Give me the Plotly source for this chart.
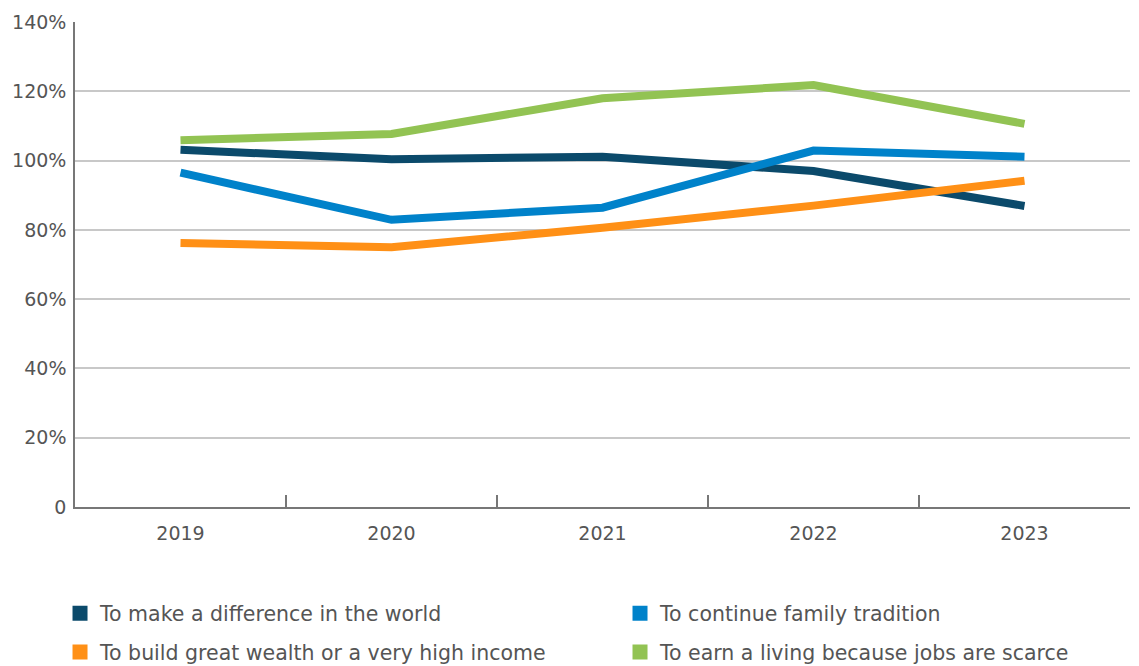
import plotly.graph_objects as go

years = ["2019", "2020", "2021", "2022", "2023"]

series_names = [
    "To make a difference in the world",
    "To continue family tradition",
    "To build great wealth or a very high income",
    "To earn a living because jobs are scarce",
]
make_difference = [103.1, 100.4, 101.1, 97.0, 86.9]
family_tradition = [96.5, 82.9, 86.4, 102.9, 101.1]
build_wealth = [76.2, 75.0, 80.6, 87.0, 94.2]
earn_living = [105.9, 107.7, 118.0, 121.8, 110.6]

series_values = [make_difference, family_tradition, build_wealth, earn_living]
colors = ["#0B4A6B", "#0082CA", "#FF9016", "#92C353"]

y_tickvals = [0, 20, 40, 60, 80, 100, 120, 140]
y_ticktext = ["0", "20%", "40%", "60%", "80%", "100%", "120%", "140%"]

FONT = "DejaVu Sans"
TEXT = "#555555"

fig = go.Figure()

for name, vals, col in zip(series_names, series_values, colors):
    fig.add_trace(go.Scatter(
        x=years, y=vals, mode="lines", name=name,
        line=dict(color=col, width=8),
        showlegend=False, hoverinfo="x+y+name",
    ))

# one small legend per entry, laid out as a 2x2 grid under the axis
legend_ids = ["legend", "legend2", "legend3", "legend4"]
legend_pos = [(-0.0142, -0.178), (0.5166, -0.178),
              (-0.0142, -0.258), (0.5166, -0.258)]

for name, col, lg in zip(series_names, colors, legend_ids):
    fig.add_trace(go.Scatter(
        x=[None], y=[None], mode="markers", name=name,
        marker=dict(symbol="square", size=15, color=col),
        legend=lg, showlegend=True,
    ))

legend_layout = {}
for lg, (lx, ly) in zip(legend_ids, legend_pos):
    legend_layout[lg] = dict(
        x=lx, y=ly, xanchor="left", yanchor="top", orientation="h",
        font=dict(family=FONT, size=20.5, color=TEXT),
        bgcolor="rgba(0,0,0,0)", itemclick=False, itemdoubleclick=False,
    )

fig.update_layout(
    width=1139, height=666,
    margin=dict(l=75, r=9, t=22, b=159, autoexpand=False),
    paper_bgcolor="white", plot_bgcolor="white",
    font=dict(family=FONT, color=TEXT),
    xaxis=dict(
        type="category", range=[-0.5, 4.5],
        tickson="boundaries", ticks="inside", ticklen=12,
        tickcolor="#777777", tickwidth=1.5,
        showline=True, linecolor="#777777", linewidth=1.5,
        showgrid=False, zeroline=False,
        tickfont=dict(family=FONT, size=19, color=TEXT),
        ticklabelstandoff=8,
    ),
    yaxis=dict(
        range=[0, 140], tickvals=y_tickvals, ticktext=y_ticktext,
        showgrid=True, gridcolor="#C8C8C8", gridwidth=1.5,
        showline=True, linecolor="#777777", linewidth=1.5,
        zeroline=False, ticks="",
        tickfont=dict(family=FONT, size=19, color=TEXT),
        ticklabelstandoff=3,
    ),
    **legend_layout,
)

fig.write_html("out.html")
